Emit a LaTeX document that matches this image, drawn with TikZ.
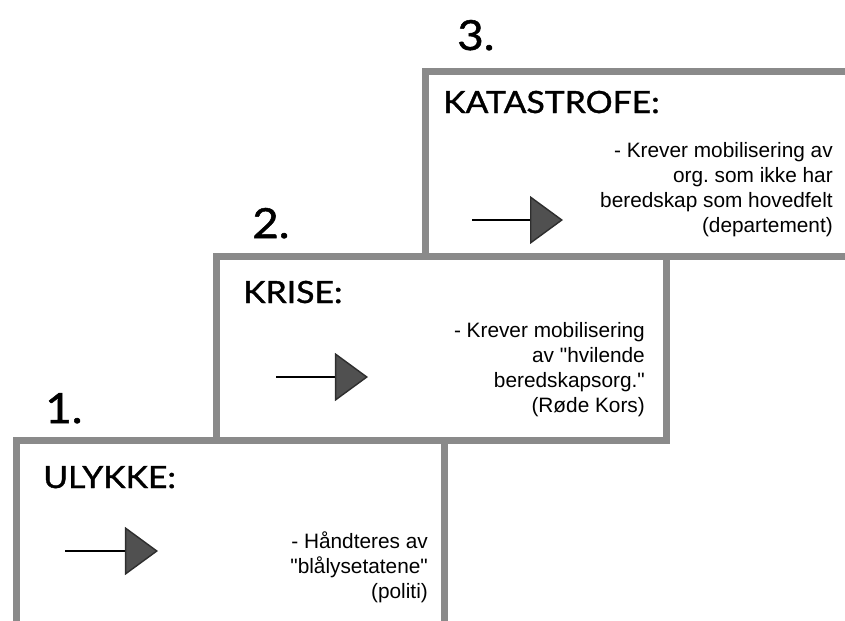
\documentclass[tikz,border=0pt]{standalone}
\usepackage{fontspec}
\setmainfont{Liberation Sans}
\newfontfamily\notefont{Liberation Sans}
\newfontfamily\headfont{Lato}[FakeStretch=1.1, FakeBold=1.2]
\frenchspacing
\usetikzlibrary{arrows.meta,positioning}
\definecolor{boxgray}{HTML}{8A8A8A}
\definecolor{tipgray}{HTML}{505050}
\definecolor{tipdark}{HTML}{2E2E2E}

\begin{document}
\begin{tikzpicture}[x=0.025cm, y=-0.025cm,
        box/.style={draw=boxgray, line width=0.175cm, rectangle, inner sep=0pt, outer sep=0pt, anchor=north west},
        levelno/.style={font=\headfont\fontsize{29.5}{30}\selectfont, inner sep=0pt, anchor=base west},
        head/.style={font=\headfont\fontsize{21.8}{24}\selectfont, inner sep=0pt, anchor=base west},
        note/.style={font=\notefont\fontsize{14.8}{17.6}\selectfont, align=right, inner sep=0pt, anchor=base east},
        pointer/.style={line width=1pt, -{Triangle[length=0.825cm, width=1.2cm, color=tipdark, fill=tipgray]}}]
    \useasboundingbox (0,0) rectangle (845,620);
    \clip (0,0) rectangle (845,620);
    % the three steps
    \node[box, minimum width=10.7cm, minimum height=6cm] (ulykke) at (16.5,440.5) {};
    \node[box, minimum width=11.2375cm, minimum height=4.6cm] (krise) at (216.5,256.5) {};
    \node[box, minimum width=12cm, minimum height=4.6375cm] (katastrofe) at (425,71) {};
    % numbers
    \node[levelno] (nr1) at ([shift={(28.5,-17.5)}]ulykke.north west) {1.};
    \node[levelno] (nr2) at ([shift={(35.5,-18.5)}]krise.north west) {2.};
    \node[levelno] (nr3) at ([shift={(32,-21)}]katastrofe.north west) {3.};
    % headings
    \node[head] (head1) at ([shift={(26.5,47.5)}]ulykke.north west) {ULYKKE:};
    \node[head] (head2) at ([shift={(26.5,46.5)}]krise.north west) {KRISE:};
    \node[head] (head3) at ([shift={(18,42)}]katastrofe.north west) {KATASTROFE:};
    % descriptions (base = last line)
    \node[note] (txt1) at ([shift={(-16.5,157.5)}]ulykke.north east) {- Håndteres av\\"blålysetatene"\\(politi)};
    \node[note] (txt2) at ([shift={(-21,155.5)}]krise.north east) {- Krever mobilisering\\av "hvilende\\beredskapsorg."\\(Røde Kors)};
    \node[note] (txt3) at ([shift={(408,161)}]katastrofe.north west) {- Krever mobilisering av\\org. som ikke har\\beredskap som hovedfelt\\(departement)};
    % arrows
    \coordinate (from1) at ([shift={(48.5,110.5)}]ulykke.north west);
    \coordinate (to1) at ([shift={(141.5,110.5)}]ulykke.north west);
    \coordinate (from2) at ([shift={(59.5,120.5)}]krise.north west);
    \coordinate (to2) at ([shift={(151.5,120.5)}]krise.north west);
    \coordinate (from3) at ([shift={(47,149)}]katastrofe.north west);
    \coordinate (to3) at ([shift={(138,149)}]katastrofe.north west);
    \draw[pointer] (from1) -- (to1);
    \draw[pointer] (from2) -- (to2);
    \draw[pointer] (from3) -- (to3);
\end{tikzpicture}
\end{document}
